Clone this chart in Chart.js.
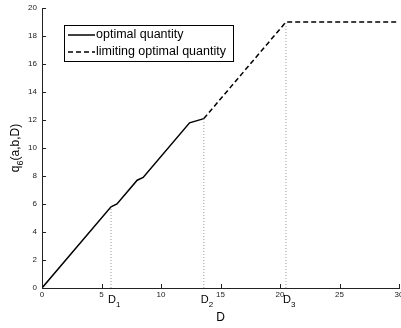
<!DOCTYPE html>
<html>
<head>
<meta charset="utf-8">
<script src="https://cdn.jsdelivr.net/npm/chart.js@4/dist/chart.umd.min.js"></script>
<style>
  html, body { margin: 0; padding: 0; background: #fff; }
  #wrap { width: 401px; height: 328px; }
</style>
</head>
<body>
<div id="wrap"><canvas id="chart" width="401" height="328"></canvas></div>
<script>
'use strict';

// ── Data ──────────────────────────────────────────────────────
const solidD = [0, 5.8, 6.3, 8.0, 8.5, 12.4, 13.6];
const solidQ = [0, 5.8, 6.0, 7.7, 7.9, 11.8, 12.1];
const dashD  = [13.6, 20.5, 30];
const dashQ  = [12.1, 19, 19];
const markD  = [5.8, 13.6, 20.5];
const markQ  = [5.8, 12.1, 19];
const markSub = ['1', '2', '3'];
const legendLabels = ['optimal quantity', 'limiting optimal quantity'];

const FONT = '"Liberation Sans", Arial, Helvetica, sans-serif';

function pts(xs, ys) { return xs.map((x, i) => ({ x, y: ys[i] })); }

const guideSets = markD.map((d, i) => ({
  data: pts([d, d], [0, markQ[i]]),
  borderColor: '#9a9a9a',
  borderWidth: 1,
  borderDash: [1, 2],
  pointRadius: 0,
  showLine: true,
}));

// ── Extras drawn on top: inward ticks, legend, labels ────────
const extras = {
  id: 'extras',
  afterDraw(chart) {
    const ctx = chart.ctx;
    const xs = chart.scales.x, ys = chart.scales.y;
    const a = chart.chartArea;
    ctx.save();
    ctx.strokeStyle = '#222';
    ctx.lineWidth = 1;
    xs.ticks.forEach((t) => {
      const px = Math.round(xs.getPixelForValue(t.value)) + 0.5;
      ctx.beginPath(); ctx.moveTo(px, a.bottom); ctx.lineTo(px, a.bottom - 4); ctx.stroke();
    });
    ys.ticks.forEach((t) => {
      const py = Math.round(ys.getPixelForValue(t.value)) + 0.5;
      ctx.beginPath(); ctx.moveTo(a.left, py); ctx.lineTo(a.left + 4, py); ctx.stroke();
    });

    // D1..D3 labels
    ctx.fillStyle = '#000';
    ctx.textBaseline = 'alphabetic';
    markD.forEach((d, i) => {
      const px = xs.getPixelForValue(d);
      ctx.font = '11px ' + FONT;
      ctx.textAlign = 'left';
      ctx.fillText('D', px - 3, a.bottom + 15);
      const w = ctx.measureText('D').width;
      ctx.font = '8px ' + FONT;
      ctx.fillText(markSub[i], px - 3 + w, a.bottom + 19);
    });

    // y axis title with subscript
    ctx.save();
    ctx.translate(19, ys.getPixelForValue(10));
    ctx.rotate(-Math.PI / 2);
    ctx.font = '12px ' + FONT;
    const w1 = ctx.measureText('q').width;
    const w3 = ctx.measureText('(a,b,D)').width;
    ctx.font = '9px ' + FONT;
    const w2 = ctx.measureText('6').width;
    let x0 = -(w1 + w2 + w3) / 2;
    ctx.textAlign = 'left';
    ctx.font = '12px ' + FONT;
    ctx.fillText('q', x0, 0);
    ctx.font = '9px ' + FONT;
    ctx.fillText('6', x0 + w1, 4);
    ctx.font = '12px ' + FONT;
    ctx.fillText('(a,b,D)', x0 + w1 + w2, 0);
    ctx.restore();

    // legend box
    const lx = 64.5, ly = 25.5, lw = 169, lh = 36;
    ctx.fillStyle = '#fff';
    ctx.fillRect(lx, ly, lw, lh);
    ctx.strokeStyle = '#000';
    ctx.lineWidth = 1;
    ctx.strokeRect(lx, ly, lw, lh);
    ctx.lineWidth = 1.5;
    ctx.beginPath(); ctx.moveTo(68, 35); ctx.lineTo(95, 35); ctx.stroke();
    ctx.setLineDash([5, 3]);
    ctx.beginPath(); ctx.moveTo(68, 52); ctx.lineTo(95, 52); ctx.stroke();
    ctx.setLineDash([]);
    ctx.fillStyle = '#000';
    ctx.font = '12.5px ' + FONT;
    ctx.textAlign = 'left';
    ctx.textBaseline = 'middle';
    ctx.fillText(legendLabels[0], 96, 35);
    ctx.fillText(legendLabels[1], 96, 52);
    ctx.restore();
  },
};

// ── Chart ─────────────────────────────────────────────────────
new Chart(document.getElementById('chart').getContext('2d'), {
  type: 'scatter',
  data: {
    datasets: [
      ...guideSets,
      {
        label: legendLabels[0],
        data: pts(solidD, solidQ),
        borderColor: '#000',
        borderWidth: 1.5,
        pointRadius: 0,
        showLine: true,
      },
      {
        label: legendLabels[1],
        data: pts(dashD, dashQ),
        borderColor: '#000',
        borderWidth: 1.5,
        borderDash: [5, 3],
        pointRadius: 0,
        showLine: true,
      },
    ],
  },
  options: {
    responsive: false,
    animation: false,
    layout: { padding: { top: 8, right: 2, left: 0, bottom: 0 } },
    plugins: { legend: { display: false }, tooltip: { enabled: false } },
    scales: {
      x: {
        type: 'linear', min: 0, max: 30,
        ticks: { stepSize: 5, autoSkip: false, maxRotation: 0, padding: 2,
                 color: '#222', font: { size: 8, family: FONT } },
        grid: { display: false, drawTicks: false },
        border: { display: true, color: '#222', width: 1 },
        title: { display: true, text: 'D', color: '#000',
                 font: { size: 12, family: FONT }, padding: { top: 0, bottom: 3 } },
        afterFit(s) { s.height = 40; s.paddingLeft = 0; s.paddingRight = 0; },
      },
      y: {
        type: 'linear', min: 0, max: 20,
        ticks: { stepSize: 2, autoSkip: false, padding: 5,
                 color: '#222', font: { size: 8, family: FONT } },
        grid: { display: false, drawTicks: false },
        border: { display: true, color: '#222', width: 1 },
        afterFit(s) { s.width = 42; s.paddingTop = 0; s.paddingBottom = 0; },
      },
    },
  },
  plugins: [extras],
});
</script>
</body>
</html>
